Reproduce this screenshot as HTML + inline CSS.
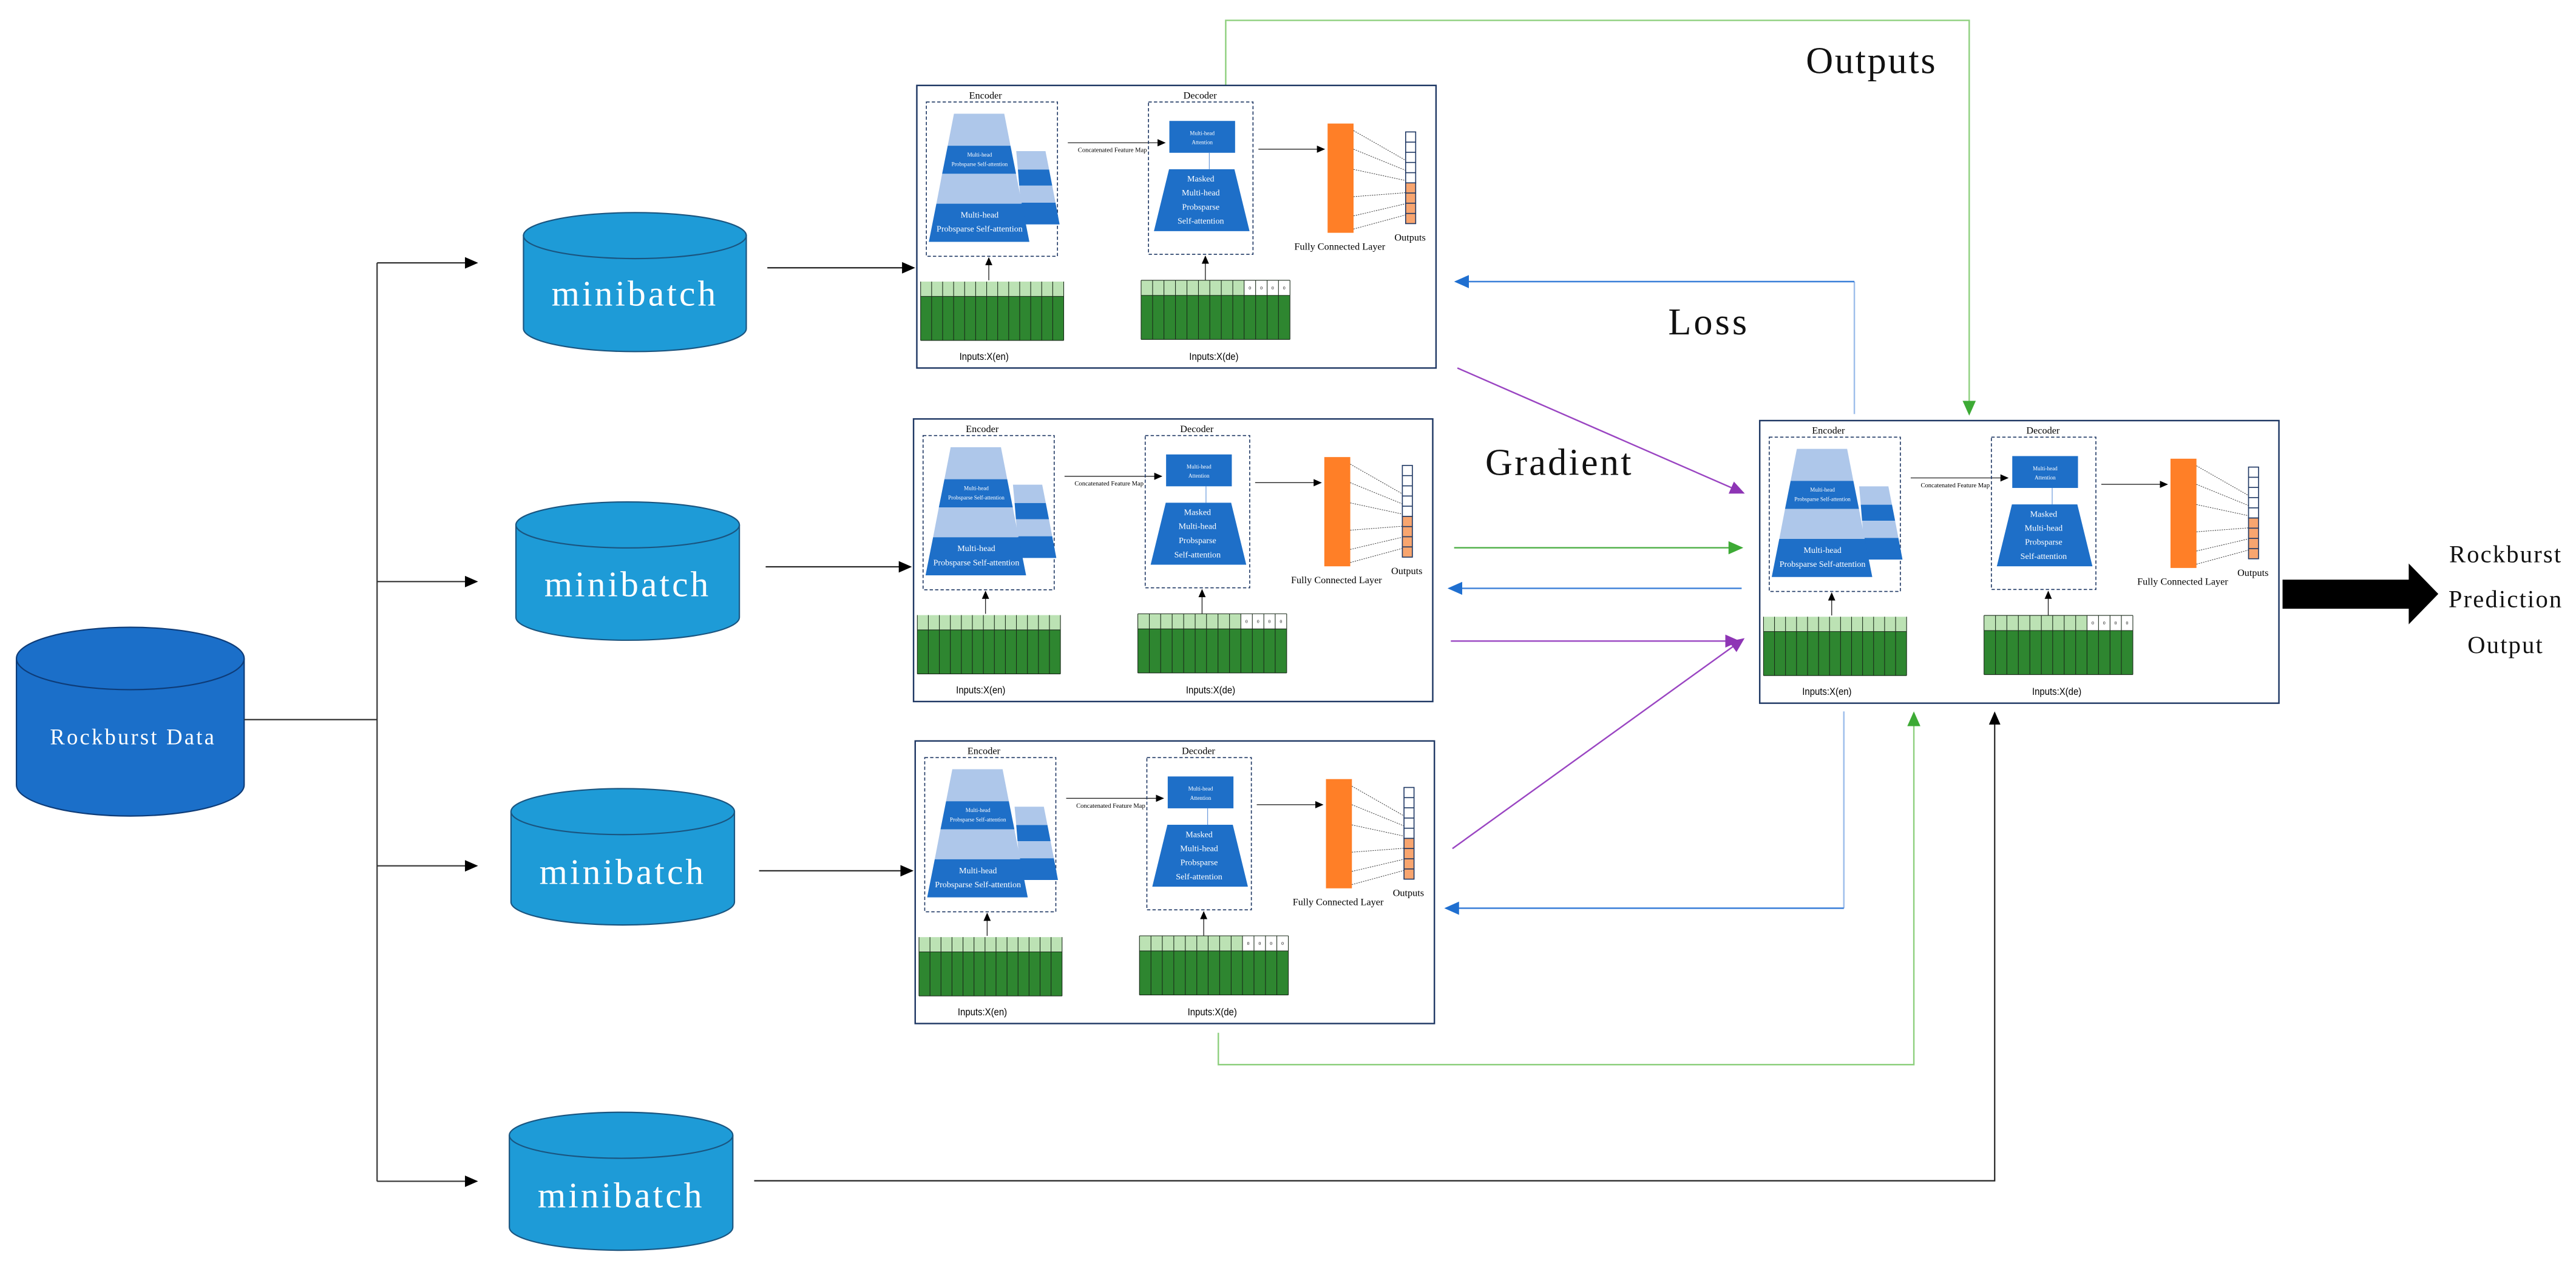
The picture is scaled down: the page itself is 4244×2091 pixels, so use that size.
<!DOCTYPE html>
<html><head><meta charset="utf-8"><style>
html,body{margin:0;padding:0;background:#fff;}
svg{display:block;}
text{font-family:"Liberation Serif",serif;}
.s{font-family:"Liberation Sans",sans-serif;}
</style></head><body>
<svg width="4244" height="2091" viewBox="0 0 1567.8 772.4" preserveAspectRatio="none" xmlns="http://www.w3.org/2000/svg">
<defs>
<marker id="ak" markerWidth="8" markerHeight="8" refX="7" refY="4" orient="auto" markerUnits="userSpaceOnUse"><path d="M0,0.5 L8,4 L0,7.5z" fill="#000"/></marker>
<marker id="ak2" markerWidth="5" markerHeight="5" refX="4.5" refY="2.5" orient="auto" markerUnits="userSpaceOnUse"><path d="M0,0.3 L5,2.5 L0,4.7z" fill="#000"/></marker>
<marker id="ag" markerWidth="9" markerHeight="8" refX="8" refY="4" orient="auto" markerUnits="userSpaceOnUse"><path d="M0,0 L9,4 L0,8z" fill="#3DAA35"/></marker>
<marker id="ab" markerWidth="9" markerHeight="8" refX="8" refY="4" orient="auto" markerUnits="userSpaceOnUse"><path d="M0,0 L9,4 L0,8z" fill="#1F6FD0"/></marker>
<marker id="ap" markerWidth="9" markerHeight="8" refX="8" refY="4" orient="auto" markerUnits="userSpaceOnUse"><path d="M0,0 L9,4 L0,8z" fill="#8E35B5"/></marker>
</defs>

<path d="M10,400.8 V477.7 A69.3,19 0 0 0 148.6,477.7 V400.8" fill="#1B6FC9" stroke="#0E3C78" stroke-width="0.8"/>
<ellipse cx="79.3" cy="400.8" rx="69.3" ry="19" fill="#1B6FC9" stroke="#0E3C78" stroke-width="0.8"/>
<text x="81" y="453" font-size="13.5" fill="#fff" text-anchor="middle" letter-spacing="1.2">Rockburst  Data</text>

<g stroke="#333" stroke-width="0.8" fill="none">
<path d="M148.6,438 H229.5"/>
<path d="M229.5,160 V719"/>
<path d="M229.5,160 H290" marker-end="url(#ak)"/>
<path d="M229.5,354 H290" marker-end="url(#ak)"/>
<path d="M229.5,527 H290" marker-end="url(#ak)"/>
<path d="M229.5,719 H290" marker-end="url(#ak)"/>
</g>

<g fill="#1E9BD7" stroke="#1A5580" stroke-width="0.8">
<path d="M318.6,143 V200 A67.8,14 0 0 0 454.2,200 V143"/><ellipse cx="386.4" cy="143.4" rx="67.8" ry="14"/>
<path d="M314,319.5 V375.7 A68,14 0 0 0 450,375.7 V319.5"/><ellipse cx="382" cy="319.5" rx="68" ry="14"/>
<path d="M311,494 V549 A68,14 0 0 0 447,549 V494"/><ellipse cx="379" cy="494" rx="68" ry="14"/>
<path d="M310,691 V747 A68,14 0 0 0 446,747 V691"/><ellipse cx="378" cy="691" rx="68" ry="14"/>
</g>
<g fill="#fff" font-size="22" text-anchor="middle" letter-spacing="1.5">
<text x="386.4" y="186">minibatch</text>
<text x="382" y="363">minibatch</text>
<text x="379" y="538">minibatch</text>
<text x="378" y="735">minibatch</text>
</g>

<g stroke="#222" stroke-width="0.8" fill="none">
<path d="M467,163 H556" marker-end="url(#ak)"/>
<path d="M466,345 H554" marker-end="url(#ak)"/>
<path d="M462,530 H555" marker-end="url(#ak)"/>
<path d="M459,718.7 H1214 V434" marker-end="url(#ak)"/>
</g>

<g fill="none" stroke-width="0.9">
<path d="M746,52 V12.4 H1198.5 V252" stroke="#8FD07F" marker-end="url(#ag)"/>
<path d="M1128.6,252 V171.4" stroke="#9DBDEB"/>
<path d="M1128.6,171.4 H886" stroke="#3A7FD8" marker-end="url(#ab)"/>
<path d="M887,224 L1061,300" stroke="#9A45C2" marker-end="url(#ap)"/>
<path d="M885,333.4 H1060" stroke="#4DAF45" marker-end="url(#ag)"/>
<path d="M1060,358.1 H882" stroke="#3A7FD8" marker-end="url(#ab)"/>
<path d="M883,390.2 H1058" stroke="#9A45C2" marker-end="url(#ap)"/>
<path d="M884,516.5 L1061,389" stroke="#9A45C2" marker-end="url(#ap)"/>
<path d="M1122.2,433 V552.8" stroke="#9DBDEB"/>
<path d="M1122.2,552.8 H880" stroke="#3A7FD8" marker-end="url(#ab)"/>
<path d="M741.5,628.6 V648 H1164.8 V434" stroke="#8FD07F" marker-end="url(#ag)"/>
</g>

<g font-size="23" fill="#111">
<text x="1139" y="44.5" text-anchor="middle" letter-spacing="1">Outputs</text>
<text x="1040" y="203.5" text-anchor="middle" letter-spacing="1.5">Loss</text>
<text x="949" y="289" text-anchor="middle" letter-spacing="1.2">Gradient</text>
</g>

<path d="M1389.2,352.8 H1466 V343 L1484,361.5 L1466,380 V370.5 H1389.2z" fill="#000"/>
<g font-size="15" fill="#111" text-anchor="middle" letter-spacing="0.8">
<text x="1525" y="342.2">Rockburst</text>
<text x="1525" y="369.6">Prediction</text>
<text x="1525" y="397.5">Output</text>
</g>

<!-- MODEL BOX 1 -->
<g transform="translate(558,52)">
<rect x="0" y="0" width="316" height="172" fill="#fff" stroke="#1F3864" stroke-width="0.9"/>
<text x="41.8" y="8" font-size="6" text-anchor="middle">Encoder</text>
<rect x="5.8" y="10.1" width="79.8" height="93.9" fill="none" stroke="#1F3864" stroke-width="0.6" stroke-dasharray="2,1.3"/>
<polygon points="60.5,40 78.3,40 80.5,51.2 61.5,51.2" fill="#AEC7EA"/>
<polygon points="61.5,51.2 80.5,51.2 82.4,61 62.3,61" fill="#1E6FC8"/>
<polygon points="62.3,61 82.4,61 84.4,71.4 63.2,71.4" fill="#AEC7EA"/>
<polygon points="63.2,71.4 84.4,71.4 86.9,84.6 64.3,84.6" fill="#1E6FC8"/>
<polygon points="22.6,17.2 53.2,17.2 57,36.7 18.8,36.7" fill="#AEC7EA"/>
<polygon points="18.8,36.7 57,36.7 60.4,53.8 15.4,53.8" fill="#1E6FC8"/>
<polygon points="15.4,53.8 60.4,53.8 63.9,72 11.9,72" fill="#AEC7EA"/>
<polygon points="11.9,72 63.9,72 68.5,95.2 7.3,95.2" fill="#1E6FC8"/>
<g fill="#fff" text-anchor="middle"><text x="38.2" y="43.3" font-size="3.4">Multi-head</text><text x="38.2" y="49" font-size="3.4">Probsparse Self-attention</text>
<text x="38.2" y="80.5" font-size="5.2">Multi-head</text><text x="38.2" y="89" font-size="5.2">Probsparse Self-attention</text></g>
<path d="M91.9,34.9 H151" stroke="#222" stroke-width="0.5" marker-end="url(#ak2)"/>
<text x="119" y="40.6" font-size="3.9" text-anchor="middle">Concatenated Feature Map</text>
<text x="172.4" y="8" font-size="6" text-anchor="middle">Decoder</text>
<rect x="141" y="10.1" width="63.6" height="92.7" fill="none" stroke="#1F3864" stroke-width="0.6" stroke-dasharray="2,1.3"/>
<rect x="153.7" y="21.6" width="40" height="19.4" fill="#1E6FC8"/>
<g fill="#fff" text-anchor="middle" font-size="3.4"><text x="173.7" y="30.2">Multi-head</text><text x="173.7" y="35.8">Attention</text></g>
<path d="M178,41 V51" stroke="#5A8FD8" stroke-width="0.4"/>
<polygon points="153.5,51 193.3,51 202.5,88.7 144.3,88.7" fill="#1E6FC8"/>
<g fill="#fff" text-anchor="middle" font-size="5.2"><text x="172.8" y="58.5">Masked</text><text x="172.8" y="67">Multi-head</text><text x="172.8" y="75.6">Probsparse</text><text x="172.8" y="84.2">Self-attention</text></g>
<path d="M207.9,38.8 H248" stroke="#222" stroke-width="0.5" marker-end="url(#ak2)"/>
<rect x="250" y="23.2" width="15.8" height="66.5" fill="#FF7F27"/>
<g stroke="#333" stroke-width="0.35" stroke-dasharray="0.8,0.6"><path d="M265.8,27.5 L297.5,45.6 M265.8,38.8 L297.5,51.7 M265.8,51.1 L297.5,57.9 M265.8,67.7 L297.5,65.3 M265.8,79.4 L297.5,72 M265.8,87.4 L297.5,78.8"/></g>
<g stroke="#1F3864" stroke-width="0.6"><rect x="297.5" y="28.3" width="6.1" height="31" fill="#fff"/><rect x="297.5" y="59.3" width="6.1" height="24.8" fill="#F8A56F"/>
<path d="M297.5,34.5 H303.6 M297.5,40.7 H303.6 M297.5,46.9 H303.6 M297.5,53.1 H303.6 M297.5,65.5 H303.6 M297.5,71.7 H303.6 M297.5,77.9 H303.6" fill="none"/></g>
<text x="300.2" y="94.5" font-size="6" text-anchor="middle">Outputs</text>
<text x="257.4" y="100" font-size="6" text-anchor="middle">Fully Connected Layer</text>
<path d="M43.8,118.6 V105" stroke="#222" stroke-width="0.5" marker-end="url(#ak2)"/>
<path d="M175.6,118.6 V104" stroke="#222" stroke-width="0.5" marker-end="url(#ak2)"/>
<rect x="2.3" y="119.4" width="87.1" height="9" fill="#BCE2B4"/>
<rect x="2.3" y="128.4" width="87.1" height="26.8" fill="#2E8630"/>
<path d="M2.3,119.4 V155.2 M9,119.4 V155.2 M15.7,119.4 V155.2 M22.4,119.4 V155.2 M29.1,119.4 V155.2 M35.8,119.4 V155.2 M42.5,119.4 V155.2 M49.2,119.4 V155.2 M55.9,119.4 V155.2 M62.6,119.4 V155.2 M69.3,119.4 V155.2 M76,119.4 V155.2 M82.7,119.4 V155.2 M89.4,119.4 V155.2 M2.3,128.4 H89.4 M2.3,155.2 H89.4" stroke="#1a2a1a" stroke-width="0.4" fill="none"/>
<rect x="136.5" y="118.6" width="62.7" height="9.2" fill="#BCE2B4"/>
<rect x="199.2" y="118.6" width="27.9" height="9.2" fill="#fff"/>
<rect x="136.5" y="127.8" width="90.6" height="26.8" fill="#2E8630"/>
<path d="M136.5,118.6 V154.6 M143.5,118.6 V154.6 M150.4,118.6 V154.6 M157.4,118.6 V154.6 M164.4,118.6 V154.6 M171.4,118.6 V154.6 M178.3,118.6 V154.6 M185.3,118.6 V154.6 M192.3,118.6 V154.6 M199.2,118.6 V154.6 M206.2,118.6 V154.6 M213.2,118.6 V154.6 M220.1,118.6 V154.6 M227.1,118.6 V154.6 M136.5,118.6 H227.1 M136.5,127.8 H227.1 M136.5,154.6 H227.1" stroke="#1a2a1a" stroke-width="0.4" fill="none"/>
<g font-size="2.8" text-anchor="middle"><text x="202.7" y="124.2">0</text><text x="209.7" y="124.2">0</text><text x="216.6" y="124.2">0</text><text x="223.6" y="124.2">0</text></g>
<text class="s" x="40.9" y="167" font-size="6" text-anchor="middle" textLength="30" lengthAdjust="spacingAndGlyphs">Inputs:X(en)</text>
<text class="s" x="180.8" y="167" font-size="6" text-anchor="middle" textLength="30" lengthAdjust="spacingAndGlyphs">Inputs:X(de)</text>
</g>

<!-- MODEL BOX 2 -->
<g transform="translate(556,255)">
<rect x="0" y="0" width="316" height="172" fill="#fff" stroke="#1F3864" stroke-width="0.9"/>
<text x="41.8" y="8" font-size="6" text-anchor="middle">Encoder</text>
<rect x="5.8" y="10.1" width="79.8" height="93.9" fill="none" stroke="#1F3864" stroke-width="0.6" stroke-dasharray="2,1.3"/>
<polygon points="60.5,40 78.3,40 80.5,51.2 61.5,51.2" fill="#AEC7EA"/>
<polygon points="61.5,51.2 80.5,51.2 82.4,61 62.3,61" fill="#1E6FC8"/>
<polygon points="62.3,61 82.4,61 84.4,71.4 63.2,71.4" fill="#AEC7EA"/>
<polygon points="63.2,71.4 84.4,71.4 86.9,84.6 64.3,84.6" fill="#1E6FC8"/>
<polygon points="22.6,17.2 53.2,17.2 57,36.7 18.8,36.7" fill="#AEC7EA"/>
<polygon points="18.8,36.7 57,36.7 60.4,53.8 15.4,53.8" fill="#1E6FC8"/>
<polygon points="15.4,53.8 60.4,53.8 63.9,72 11.9,72" fill="#AEC7EA"/>
<polygon points="11.9,72 63.9,72 68.5,95.2 7.3,95.2" fill="#1E6FC8"/>
<g fill="#fff" text-anchor="middle"><text x="38.2" y="43.3" font-size="3.4">Multi-head</text><text x="38.2" y="49" font-size="3.4">Probsparse Self-attention</text>
<text x="38.2" y="80.5" font-size="5.2">Multi-head</text><text x="38.2" y="89" font-size="5.2">Probsparse Self-attention</text></g>
<path d="M91.9,34.9 H151" stroke="#222" stroke-width="0.5" marker-end="url(#ak2)"/>
<text x="119" y="40.6" font-size="3.9" text-anchor="middle">Concatenated Feature Map</text>
<text x="172.4" y="8" font-size="6" text-anchor="middle">Decoder</text>
<rect x="141" y="10.1" width="63.6" height="92.7" fill="none" stroke="#1F3864" stroke-width="0.6" stroke-dasharray="2,1.3"/>
<rect x="153.7" y="21.6" width="40" height="19.4" fill="#1E6FC8"/>
<g fill="#fff" text-anchor="middle" font-size="3.4"><text x="173.7" y="30.2">Multi-head</text><text x="173.7" y="35.8">Attention</text></g>
<path d="M178,41 V51" stroke="#5A8FD8" stroke-width="0.4"/>
<polygon points="153.5,51 193.3,51 202.5,88.7 144.3,88.7" fill="#1E6FC8"/>
<g fill="#fff" text-anchor="middle" font-size="5.2"><text x="172.8" y="58.5">Masked</text><text x="172.8" y="67">Multi-head</text><text x="172.8" y="75.6">Probsparse</text><text x="172.8" y="84.2">Self-attention</text></g>
<path d="M207.9,38.8 H248" stroke="#222" stroke-width="0.5" marker-end="url(#ak2)"/>
<rect x="250" y="23.2" width="15.8" height="66.5" fill="#FF7F27"/>
<g stroke="#333" stroke-width="0.35" stroke-dasharray="0.8,0.6"><path d="M265.8,27.5 L297.5,45.6 M265.8,38.8 L297.5,51.7 M265.8,51.1 L297.5,57.9 M265.8,67.7 L297.5,65.3 M265.8,79.4 L297.5,72 M265.8,87.4 L297.5,78.8"/></g>
<g stroke="#1F3864" stroke-width="0.6"><rect x="297.5" y="28.3" width="6.1" height="31" fill="#fff"/><rect x="297.5" y="59.3" width="6.1" height="24.8" fill="#F8A56F"/>
<path d="M297.5,34.5 H303.6 M297.5,40.7 H303.6 M297.5,46.9 H303.6 M297.5,53.1 H303.6 M297.5,65.5 H303.6 M297.5,71.7 H303.6 M297.5,77.9 H303.6" fill="none"/></g>
<text x="300.2" y="94.5" font-size="6" text-anchor="middle">Outputs</text>
<text x="257.4" y="100" font-size="6" text-anchor="middle">Fully Connected Layer</text>
<path d="M43.8,118.6 V105" stroke="#222" stroke-width="0.5" marker-end="url(#ak2)"/>
<path d="M175.6,118.6 V104" stroke="#222" stroke-width="0.5" marker-end="url(#ak2)"/>
<rect x="2.3" y="119.4" width="87.1" height="9" fill="#BCE2B4"/>
<rect x="2.3" y="128.4" width="87.1" height="26.8" fill="#2E8630"/>
<path d="M2.3,119.4 V155.2 M9,119.4 V155.2 M15.7,119.4 V155.2 M22.4,119.4 V155.2 M29.1,119.4 V155.2 M35.8,119.4 V155.2 M42.5,119.4 V155.2 M49.2,119.4 V155.2 M55.9,119.4 V155.2 M62.6,119.4 V155.2 M69.3,119.4 V155.2 M76,119.4 V155.2 M82.7,119.4 V155.2 M89.4,119.4 V155.2 M2.3,128.4 H89.4 M2.3,155.2 H89.4" stroke="#1a2a1a" stroke-width="0.4" fill="none"/>
<rect x="136.5" y="118.6" width="62.7" height="9.2" fill="#BCE2B4"/>
<rect x="199.2" y="118.6" width="27.9" height="9.2" fill="#fff"/>
<rect x="136.5" y="127.8" width="90.6" height="26.8" fill="#2E8630"/>
<path d="M136.5,118.6 V154.6 M143.5,118.6 V154.6 M150.4,118.6 V154.6 M157.4,118.6 V154.6 M164.4,118.6 V154.6 M171.4,118.6 V154.6 M178.3,118.6 V154.6 M185.3,118.6 V154.6 M192.3,118.6 V154.6 M199.2,118.6 V154.6 M206.2,118.6 V154.6 M213.2,118.6 V154.6 M220.1,118.6 V154.6 M227.1,118.6 V154.6 M136.5,118.6 H227.1 M136.5,127.8 H227.1 M136.5,154.6 H227.1" stroke="#1a2a1a" stroke-width="0.4" fill="none"/>
<g font-size="2.8" text-anchor="middle"><text x="202.7" y="124.2">0</text><text x="209.7" y="124.2">0</text><text x="216.6" y="124.2">0</text><text x="223.6" y="124.2">0</text></g>
<text class="s" x="40.9" y="167" font-size="6" text-anchor="middle" textLength="30" lengthAdjust="spacingAndGlyphs">Inputs:X(en)</text>
<text class="s" x="180.8" y="167" font-size="6" text-anchor="middle" textLength="30" lengthAdjust="spacingAndGlyphs">Inputs:X(de)</text>
</g>

<!-- MODEL BOX 3 -->
<g transform="translate(557,451)">
<rect x="0" y="0" width="316" height="172" fill="#fff" stroke="#1F3864" stroke-width="0.9"/>
<text x="41.8" y="8" font-size="6" text-anchor="middle">Encoder</text>
<rect x="5.8" y="10.1" width="79.8" height="93.9" fill="none" stroke="#1F3864" stroke-width="0.6" stroke-dasharray="2,1.3"/>
<polygon points="60.5,40 78.3,40 80.5,51.2 61.5,51.2" fill="#AEC7EA"/>
<polygon points="61.5,51.2 80.5,51.2 82.4,61 62.3,61" fill="#1E6FC8"/>
<polygon points="62.3,61 82.4,61 84.4,71.4 63.2,71.4" fill="#AEC7EA"/>
<polygon points="63.2,71.4 84.4,71.4 86.9,84.6 64.3,84.6" fill="#1E6FC8"/>
<polygon points="22.6,17.2 53.2,17.2 57,36.7 18.8,36.7" fill="#AEC7EA"/>
<polygon points="18.8,36.7 57,36.7 60.4,53.8 15.4,53.8" fill="#1E6FC8"/>
<polygon points="15.4,53.8 60.4,53.8 63.9,72 11.9,72" fill="#AEC7EA"/>
<polygon points="11.9,72 63.9,72 68.5,95.2 7.3,95.2" fill="#1E6FC8"/>
<g fill="#fff" text-anchor="middle"><text x="38.2" y="43.3" font-size="3.4">Multi-head</text><text x="38.2" y="49" font-size="3.4">Probsparse Self-attention</text>
<text x="38.2" y="80.5" font-size="5.2">Multi-head</text><text x="38.2" y="89" font-size="5.2">Probsparse Self-attention</text></g>
<path d="M91.9,34.9 H151" stroke="#222" stroke-width="0.5" marker-end="url(#ak2)"/>
<text x="119" y="40.6" font-size="3.9" text-anchor="middle">Concatenated Feature Map</text>
<text x="172.4" y="8" font-size="6" text-anchor="middle">Decoder</text>
<rect x="141" y="10.1" width="63.6" height="92.7" fill="none" stroke="#1F3864" stroke-width="0.6" stroke-dasharray="2,1.3"/>
<rect x="153.7" y="21.6" width="40" height="19.4" fill="#1E6FC8"/>
<g fill="#fff" text-anchor="middle" font-size="3.4"><text x="173.7" y="30.2">Multi-head</text><text x="173.7" y="35.8">Attention</text></g>
<path d="M178,41 V51" stroke="#5A8FD8" stroke-width="0.4"/>
<polygon points="153.5,51 193.3,51 202.5,88.7 144.3,88.7" fill="#1E6FC8"/>
<g fill="#fff" text-anchor="middle" font-size="5.2"><text x="172.8" y="58.5">Masked</text><text x="172.8" y="67">Multi-head</text><text x="172.8" y="75.6">Probsparse</text><text x="172.8" y="84.2">Self-attention</text></g>
<path d="M207.9,38.8 H248" stroke="#222" stroke-width="0.5" marker-end="url(#ak2)"/>
<rect x="250" y="23.2" width="15.8" height="66.5" fill="#FF7F27"/>
<g stroke="#333" stroke-width="0.35" stroke-dasharray="0.8,0.6"><path d="M265.8,27.5 L297.5,45.6 M265.8,38.8 L297.5,51.7 M265.8,51.1 L297.5,57.9 M265.8,67.7 L297.5,65.3 M265.8,79.4 L297.5,72 M265.8,87.4 L297.5,78.8"/></g>
<g stroke="#1F3864" stroke-width="0.6"><rect x="297.5" y="28.3" width="6.1" height="31" fill="#fff"/><rect x="297.5" y="59.3" width="6.1" height="24.8" fill="#F8A56F"/>
<path d="M297.5,34.5 H303.6 M297.5,40.7 H303.6 M297.5,46.9 H303.6 M297.5,53.1 H303.6 M297.5,65.5 H303.6 M297.5,71.7 H303.6 M297.5,77.9 H303.6" fill="none"/></g>
<text x="300.2" y="94.5" font-size="6" text-anchor="middle">Outputs</text>
<text x="257.4" y="100" font-size="6" text-anchor="middle">Fully Connected Layer</text>
<path d="M43.8,118.6 V105" stroke="#222" stroke-width="0.5" marker-end="url(#ak2)"/>
<path d="M175.6,118.6 V104" stroke="#222" stroke-width="0.5" marker-end="url(#ak2)"/>
<rect x="2.3" y="119.4" width="87.1" height="9" fill="#BCE2B4"/>
<rect x="2.3" y="128.4" width="87.1" height="26.8" fill="#2E8630"/>
<path d="M2.3,119.4 V155.2 M9,119.4 V155.2 M15.7,119.4 V155.2 M22.4,119.4 V155.2 M29.1,119.4 V155.2 M35.8,119.4 V155.2 M42.5,119.4 V155.2 M49.2,119.4 V155.2 M55.9,119.4 V155.2 M62.6,119.4 V155.2 M69.3,119.4 V155.2 M76,119.4 V155.2 M82.7,119.4 V155.2 M89.4,119.4 V155.2 M2.3,128.4 H89.4 M2.3,155.2 H89.4" stroke="#1a2a1a" stroke-width="0.4" fill="none"/>
<rect x="136.5" y="118.6" width="62.7" height="9.2" fill="#BCE2B4"/>
<rect x="199.2" y="118.6" width="27.9" height="9.2" fill="#fff"/>
<rect x="136.5" y="127.8" width="90.6" height="26.8" fill="#2E8630"/>
<path d="M136.5,118.6 V154.6 M143.5,118.6 V154.6 M150.4,118.6 V154.6 M157.4,118.6 V154.6 M164.4,118.6 V154.6 M171.4,118.6 V154.6 M178.3,118.6 V154.6 M185.3,118.6 V154.6 M192.3,118.6 V154.6 M199.2,118.6 V154.6 M206.2,118.6 V154.6 M213.2,118.6 V154.6 M220.1,118.6 V154.6 M227.1,118.6 V154.6 M136.5,118.6 H227.1 M136.5,127.8 H227.1 M136.5,154.6 H227.1" stroke="#1a2a1a" stroke-width="0.4" fill="none"/>
<g font-size="2.8" text-anchor="middle"><text x="202.7" y="124.2">0</text><text x="209.7" y="124.2">0</text><text x="216.6" y="124.2">0</text><text x="223.6" y="124.2">0</text></g>
<text class="s" x="40.9" y="167" font-size="6" text-anchor="middle" textLength="30" lengthAdjust="spacingAndGlyphs">Inputs:X(en)</text>
<text class="s" x="180.8" y="167" font-size="6" text-anchor="middle" textLength="30" lengthAdjust="spacingAndGlyphs">Inputs:X(de)</text>
</g>

<!-- MODEL BOX RIGHT -->
<g transform="translate(1071,256)">
<rect x="0" y="0" width="316" height="172" fill="#fff" stroke="#1F3864" stroke-width="0.9"/>
<text x="41.8" y="8" font-size="6" text-anchor="middle">Encoder</text>
<rect x="5.8" y="10.1" width="79.8" height="93.9" fill="none" stroke="#1F3864" stroke-width="0.6" stroke-dasharray="2,1.3"/>
<polygon points="60.5,40 78.3,40 80.5,51.2 61.5,51.2" fill="#AEC7EA"/>
<polygon points="61.5,51.2 80.5,51.2 82.4,61 62.3,61" fill="#1E6FC8"/>
<polygon points="62.3,61 82.4,61 84.4,71.4 63.2,71.4" fill="#AEC7EA"/>
<polygon points="63.2,71.4 84.4,71.4 86.9,84.6 64.3,84.6" fill="#1E6FC8"/>
<polygon points="22.6,17.2 53.2,17.2 57,36.7 18.8,36.7" fill="#AEC7EA"/>
<polygon points="18.8,36.7 57,36.7 60.4,53.8 15.4,53.8" fill="#1E6FC8"/>
<polygon points="15.4,53.8 60.4,53.8 63.9,72 11.9,72" fill="#AEC7EA"/>
<polygon points="11.9,72 63.9,72 68.5,95.2 7.3,95.2" fill="#1E6FC8"/>
<g fill="#fff" text-anchor="middle"><text x="38.2" y="43.3" font-size="3.4">Multi-head</text><text x="38.2" y="49" font-size="3.4">Probsparse Self-attention</text>
<text x="38.2" y="80.5" font-size="5.2">Multi-head</text><text x="38.2" y="89" font-size="5.2">Probsparse Self-attention</text></g>
<path d="M91.9,34.9 H151" stroke="#222" stroke-width="0.5" marker-end="url(#ak2)"/>
<text x="119" y="40.6" font-size="3.9" text-anchor="middle">Concatenated Feature Map</text>
<text x="172.4" y="8" font-size="6" text-anchor="middle">Decoder</text>
<rect x="141" y="10.1" width="63.6" height="92.7" fill="none" stroke="#1F3864" stroke-width="0.6" stroke-dasharray="2,1.3"/>
<rect x="153.7" y="21.6" width="40" height="19.4" fill="#1E6FC8"/>
<g fill="#fff" text-anchor="middle" font-size="3.4"><text x="173.7" y="30.2">Multi-head</text><text x="173.7" y="35.8">Attention</text></g>
<path d="M178,41 V51" stroke="#5A8FD8" stroke-width="0.4"/>
<polygon points="153.5,51 193.3,51 202.5,88.7 144.3,88.7" fill="#1E6FC8"/>
<g fill="#fff" text-anchor="middle" font-size="5.2"><text x="172.8" y="58.5">Masked</text><text x="172.8" y="67">Multi-head</text><text x="172.8" y="75.6">Probsparse</text><text x="172.8" y="84.2">Self-attention</text></g>
<path d="M207.9,38.8 H248" stroke="#222" stroke-width="0.5" marker-end="url(#ak2)"/>
<rect x="250" y="23.2" width="15.8" height="66.5" fill="#FF7F27"/>
<g stroke="#333" stroke-width="0.35" stroke-dasharray="0.8,0.6"><path d="M265.8,27.5 L297.5,45.6 M265.8,38.8 L297.5,51.7 M265.8,51.1 L297.5,57.9 M265.8,67.7 L297.5,65.3 M265.8,79.4 L297.5,72 M265.8,87.4 L297.5,78.8"/></g>
<g stroke="#1F3864" stroke-width="0.6"><rect x="297.5" y="28.3" width="6.1" height="31" fill="#fff"/><rect x="297.5" y="59.3" width="6.1" height="24.8" fill="#F8A56F"/>
<path d="M297.5,34.5 H303.6 M297.5,40.7 H303.6 M297.5,46.9 H303.6 M297.5,53.1 H303.6 M297.5,65.5 H303.6 M297.5,71.7 H303.6 M297.5,77.9 H303.6" fill="none"/></g>
<text x="300.2" y="94.5" font-size="6" text-anchor="middle">Outputs</text>
<text x="257.4" y="100" font-size="6" text-anchor="middle">Fully Connected Layer</text>
<path d="M43.8,118.6 V105" stroke="#222" stroke-width="0.5" marker-end="url(#ak2)"/>
<path d="M175.6,118.6 V104" stroke="#222" stroke-width="0.5" marker-end="url(#ak2)"/>
<rect x="2.3" y="119.4" width="87.1" height="9" fill="#BCE2B4"/>
<rect x="2.3" y="128.4" width="87.1" height="26.8" fill="#2E8630"/>
<path d="M2.3,119.4 V155.2 M9,119.4 V155.2 M15.7,119.4 V155.2 M22.4,119.4 V155.2 M29.1,119.4 V155.2 M35.8,119.4 V155.2 M42.5,119.4 V155.2 M49.2,119.4 V155.2 M55.9,119.4 V155.2 M62.6,119.4 V155.2 M69.3,119.4 V155.2 M76,119.4 V155.2 M82.7,119.4 V155.2 M89.4,119.4 V155.2 M2.3,128.4 H89.4 M2.3,155.2 H89.4" stroke="#1a2a1a" stroke-width="0.4" fill="none"/>
<rect x="136.5" y="118.6" width="62.7" height="9.2" fill="#BCE2B4"/>
<rect x="199.2" y="118.6" width="27.9" height="9.2" fill="#fff"/>
<rect x="136.5" y="127.8" width="90.6" height="26.8" fill="#2E8630"/>
<path d="M136.5,118.6 V154.6 M143.5,118.6 V154.6 M150.4,118.6 V154.6 M157.4,118.6 V154.6 M164.4,118.6 V154.6 M171.4,118.6 V154.6 M178.3,118.6 V154.6 M185.3,118.6 V154.6 M192.3,118.6 V154.6 M199.2,118.6 V154.6 M206.2,118.6 V154.6 M213.2,118.6 V154.6 M220.1,118.6 V154.6 M227.1,118.6 V154.6 M136.5,118.6 H227.1 M136.5,127.8 H227.1 M136.5,154.6 H227.1" stroke="#1a2a1a" stroke-width="0.4" fill="none"/>
<g font-size="2.8" text-anchor="middle"><text x="202.7" y="124.2">0</text><text x="209.7" y="124.2">0</text><text x="216.6" y="124.2">0</text><text x="223.6" y="124.2">0</text></g>
<text class="s" x="40.9" y="167" font-size="6" text-anchor="middle" textLength="30" lengthAdjust="spacingAndGlyphs">Inputs:X(en)</text>
<text class="s" x="180.8" y="167" font-size="6" text-anchor="middle" textLength="30" lengthAdjust="spacingAndGlyphs">Inputs:X(de)</text>
</g>
</svg>
</body></html>
